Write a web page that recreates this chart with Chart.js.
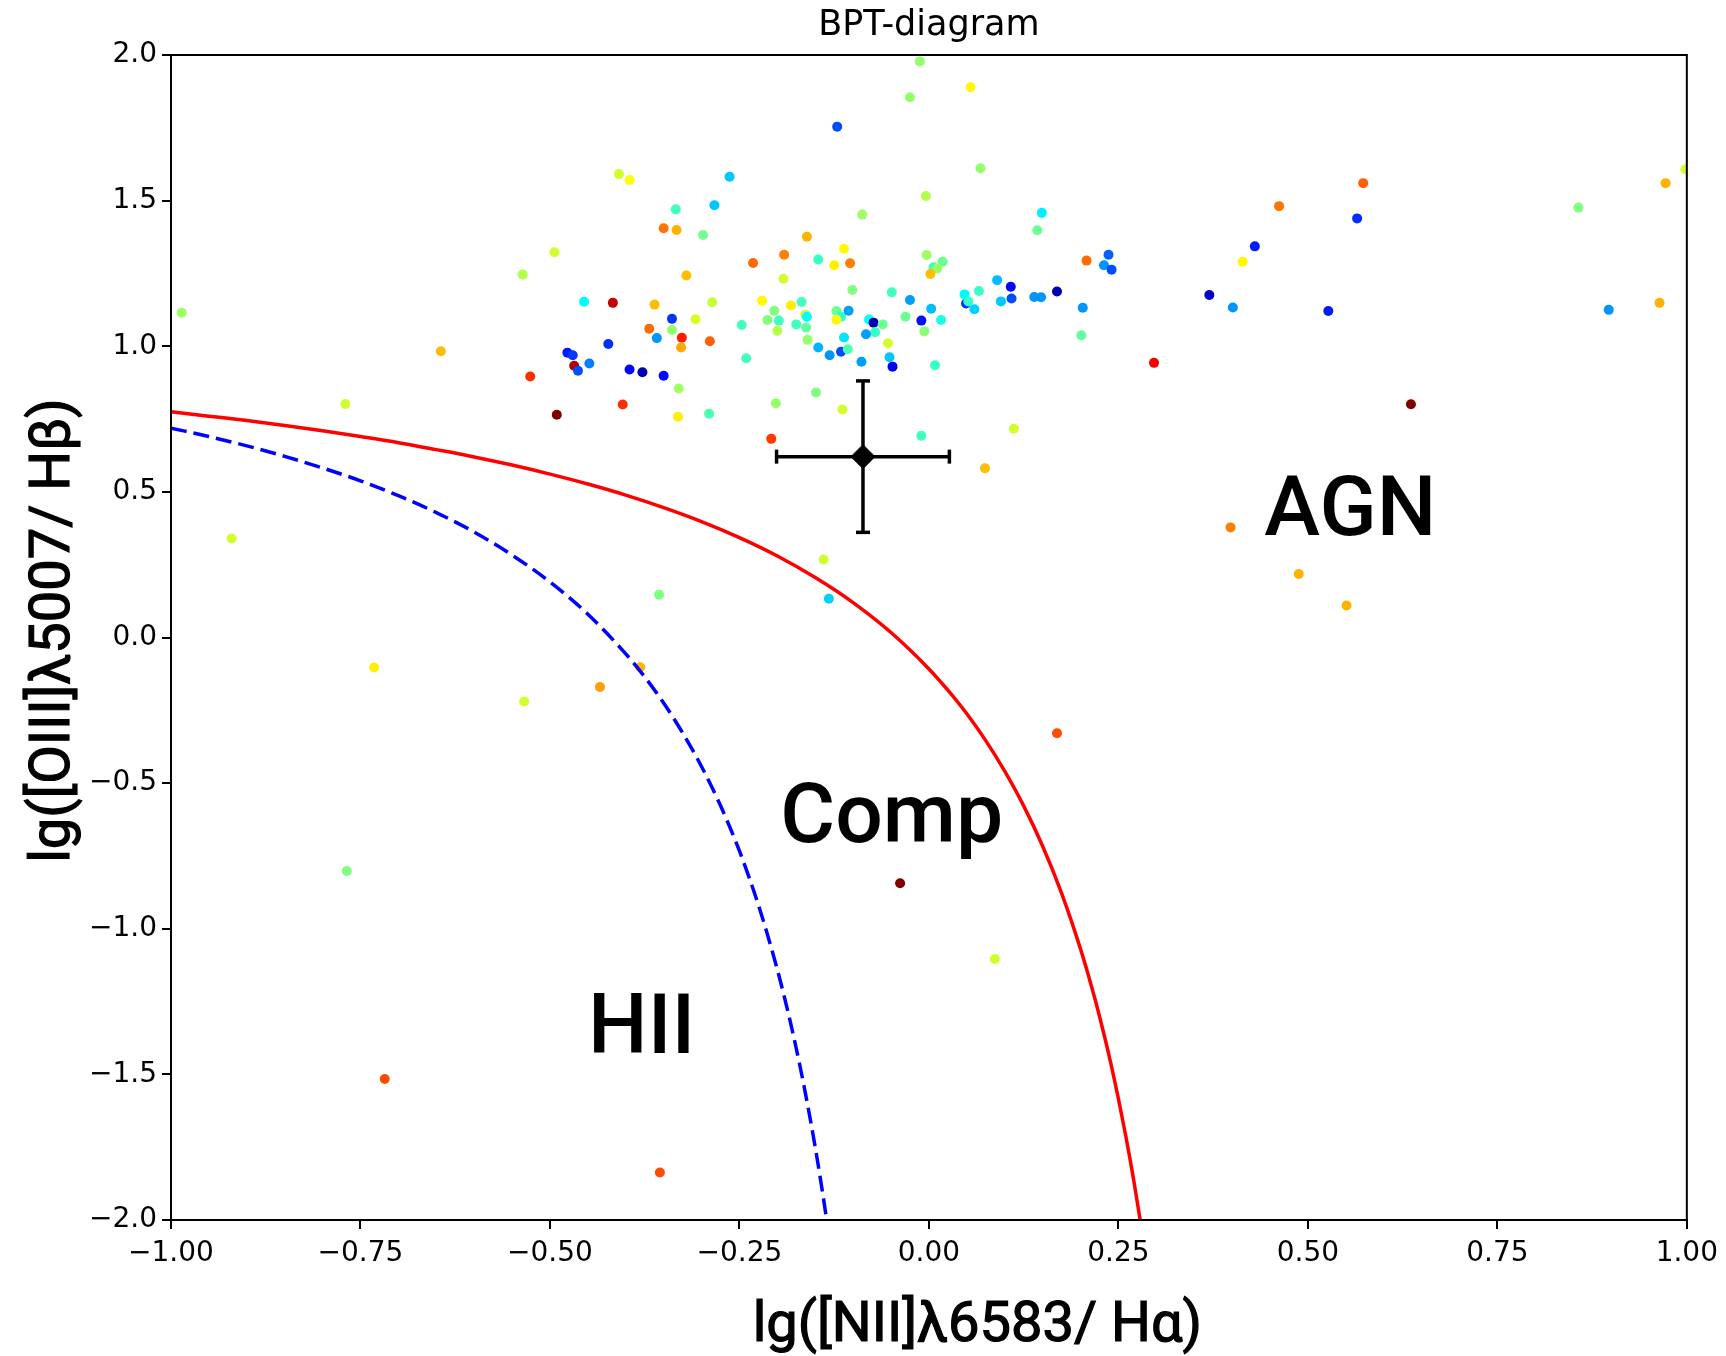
<!DOCTYPE html>
<html>
<head>
<meta charset="utf-8">
<script src="https://cdn.jsdelivr.net/npm/chart.js@4/dist/chart.umd.min.js"></script>
<style>
html,body{margin:0;padding:0;background:#fff;}
#wrap{width:1726px;height:1356px;}
</style>
</head>
<body>
<div id="wrap"><canvas id="c" width="1726" height="1356"></canvas></div>
<script>
// ---- scatter sample: lg([NII]/Ha), lg([OIII]/Hb), colour value (0..1 on jet map)
const xVals = [
 0.055,-0.025,-0.121,-0.409,-0.395,-0.263,0.068,-0.334,-0.283,-0.350,
 -0.333,-0.298,-0.004,-0.088,0.149,0.143,-0.494,-0.536,-0.161,-0.112,
 -0.232,-0.191,-0.146,-0.125,-0.104,-0.320,-0.192,-0.003,0.018,0.006,
 0.011,0.002,-0.101,-0.049,-0.025,0.003,0.016,-0.031,-0.010,-0.006,
 0.008,0.047,0.066,0.090,0.108,0.109,0.095,0.049,0.052,0.060,
 0.139,0.148,-0.455,-0.417,-0.362,-0.286,-0.220,-0.182,-0.168,-0.204,
 -0.163,-0.161,-0.213,-0.198,-0.175,-0.162,-0.200,-0.160,-0.247,-0.122,
 -0.116,-0.122,-0.106,-0.079,-0.073,-0.061,-0.071,-0.083,-0.112,-0.054,
 -0.146,-0.131,-0.116,-0.107,-0.089,-0.052,-0.048,-0.241,-0.339,-0.308,
 -0.369,-0.339,-0.359,-0.326,-0.327,-0.289,-0.423,-0.477,-0.470,-0.448,
 -0.468,-0.463,-0.395,-0.378,-0.350,-0.526,-0.330,-0.149,-0.491,-0.404,
 -0.331,-0.290,-0.202,-0.114,
 -0.986,-0.644,-0.770,-0.920,-0.356,-0.139,-0.132,-0.732,-0.534,-0.434,
 -0.381,-0.768,-0.038,0.087,0.169,0.398,0.488,0.551,-0.718,-0.355,
 -0.208,-0.010,0.112,0.074,
 0.169,0.203,0.201,0.208,0.237,0.231,0.241,0.297,0.370,0.401,
 0.414,0.430,0.462,0.527,0.565,0.573,0.636,0.857,0.897,0.964,
 0.972,0.998,-0.012
];
const yVals = [
 1.889,1.855,1.754,1.591,1.571,1.582,1.611,1.470,1.484,1.405,
 1.399,1.382,1.516,1.452,1.458,1.398,1.323,1.246,1.376,1.335,
 1.286,1.314,1.298,1.278,1.285,1.243,1.232,1.313,1.290,1.271,
 1.267,1.248,1.193,1.185,1.159,1.129,1.090,1.101,1.088,1.051,
 0.935,1.178,1.190,1.227,1.204,1.164,1.154,1.147,1.154,1.127,
 1.169,1.168,1.153,1.149,1.143,1.151,1.156,1.140,1.152,1.122,
 1.108,1.101,1.090,1.088,1.075,1.064,1.053,1.022,1.073,1.121,
 1.101,1.091,1.122,1.092,1.081,1.075,1.048,1.041,1.030,1.010,
 0.996,0.969,0.981,0.990,0.947,0.962,0.930,0.959,1.094,1.093,
 1.060,1.056,1.028,1.029,0.996,1.017,1.008,0.978,0.969,0.941,
 0.933,0.916,0.920,0.911,0.899,0.896,0.855,0.841,0.765,0.800,
 0.758,0.768,0.804,0.783,
 1.115,0.983,0.802,0.340,0.147,0.268,0.133,-0.103,-0.220,-0.170,
 -0.102,-0.802,-0.844,-1.104,-0.329,0.378,0.218,0.110,-1.516,-1.837,
 0.682,0.693,0.717,0.581,
 1.188,1.132,1.038,1.294,1.314,1.278,1.263,0.943,1.176,1.133,
 1.290,1.343,1.481,1.121,1.439,1.560,0.801,1.476,1.125,1.149,
 1.560,1.608,1.978
];
const cVals = [
 0.63,0.52,0.20,0.58,0.62,0.32,0.52,0.44,0.32,0.76,
 0.70,0.49,0.55,0.53,0.36,0.48,0.58,0.55,0.70,0.63,
 0.77,0.75,0.43,0.64,0.75,0.69,0.58,0.53,0.48,0.44,
 0.52,0.69,0.50,0.44,0.28,0.31,0.40,0.48,0.14,0.51,
 0.43,0.37,0.43,0.31,0.13,0.20,0.32,0.17,0.43,0.33,
 0.27,0.27,0.37,0.93,0.69,0.57,0.63,0.64,0.44,0.50,
 0.56,0.38,0.50,0.44,0.44,0.47,0.55,0.52,0.44,0.48,
 0.42,0.63,0.28,0.38,0.05,0.48,0.43,0.28,0.35,0.58,
 0.30,0.27,0.20,0.45,0.28,0.32,0.12,0.44,0.18,0.59,
 0.77,0.52,0.27,0.85,0.71,0.78,0.17,0.15,0.18,0.25,
 0.95,0.20,0.13,0.05,0.13,0.83,0.53,0.50,1.00,0.83,
 0.64,0.45,0.52,0.58,
 0.53,0.69,0.58,0.58,0.50,0.58,0.33,0.64,0.58,0.72,
 0.70,0.50,1.00,0.58,0.80,0.75,0.70,0.70,0.80,0.80,
 0.82,0.44,0.58,0.69,
 0.05,0.27,0.47,0.77,0.22,0.27,0.20,0.88,0.07,0.27,
 0.63,0.15,0.76,0.15,0.17,0.78,1.00,0.50,0.27,0.70,
 0.70,0.58,0.52
];

// ---- demarcation curves
const kewleyX = [-1.0,-0.95,-0.9,-0.85,-0.8,-0.75,-0.7,-0.65,-0.6,-0.55,-0.5,-0.45,-0.4,-0.35,-0.3,-0.25,-0.2,-0.15,-0.1,-0.05,0.0,0.025,0.05,0.075,0.1,0.125,0.15,0.175,0.2,0.21,0.22,0.23,0.24,0.25,0.26,0.265,0.27,0.28];
const kewleyY = [0.775,0.760,0.745,0.728,0.710,0.690,0.669,0.645,0.620,0.592,0.561,0.527,0.489,0.446,0.398,0.343,0.280,0.206,0.120,0.017,-0.108,-0.181,-0.262,-0.354,-0.459,-0.578,-0.716,-0.878,-1.069,-1.156,-1.250,-1.352,-1.462,-1.583,-1.715,-1.786,-1.860,-2.021];
const kauffX = [-1.0,-0.95,-0.9,-0.85,-0.8,-0.75,-0.7,-0.65,-0.6,-0.55,-0.5,-0.45,-0.4,-0.375,-0.35,-0.325,-0.3,-0.275,-0.25,-0.225,-0.2,-0.19,-0.18,-0.17,-0.16,-0.15,-0.14,-0.134];
const kauffY = [0.719,0.690,0.658,0.622,0.582,0.538,0.487,0.429,0.362,0.283,0.191,0.080,-0.056,-0.135,-0.225,-0.327,-0.443,-0.577,-0.733,-0.918,-1.140,-1.242,-1.352,-1.473,-1.605,-1.750,-1.911,-2.015];

// ---- target object with error bars
const objX = [-0.087];
const objY = [0.621];
const objXErr = [0.114];
const objYErr = [0.26];

// ---- ticks
const xTickValues = [-1,-0.75,-0.5,-0.25,0,0.25,0.5,0.75,1];
const xTickLabels = ['\u22121.00','\u22120.75','\u22120.50','\u22120.25','0.00','0.25','0.50','0.75','1.00'];
const yTickValues = [-2,-1.5,-1,-0.5,0,0.5,1,1.5,2];
const yTickLabels = ['\u22122.0','\u22121.5','\u22121.0','\u22120.5','0.0','0.5','1.0','1.5','2.0'];

// ---- texts
const chartTitle = 'BPT-diagram';
const xTitle = 'lg([NII]\u03bb6583/ H\u03b1)';
const yTitle = 'lg([OIII]\u03bb5007/ H\u03b2)';
const regionLabels = ['AGN','Comp','HII'];
const regionX = [0.556,-0.049,-0.379];
const regionY = [0.352,-0.702,-1.426];

function jet(v){
  const f = t => Math.max(0, Math.min(1, t));
  const r = f(1.5 - Math.abs(4*v - 3));
  const g = f(1.5 - Math.abs(4*v - 2));
  const b = f(1.5 - Math.abs(4*v - 1));
  return 'rgb(' + Math.round(r*255) + ',' + Math.round(g*255) + ',' + Math.round(b*255) + ')';
}

const scatterData = xVals.map((x, i) => ({x: x, y: yVals[i]}));
const scatterColors = cVals.map(jet);
const kewleyData = kewleyX.map((x, i) => ({x: x, y: kewleyY[i]}));
const kauffData = kauffX.map((x, i) => ({x: x, y: kauffY[i]}));
const errH = [{x: objX[0] - objXErr[0], y: objY[0]}, {x: objX[0] + objXErr[0], y: objY[0]}];
const errV = [{x: objX[0], y: objY[0] - objYErr[0]}, {x: objX[0], y: objY[0] + objYErr[0]}];

const overlay = {
  id: 'overlay',
  afterDraw(chart){
    const ctx = chart.ctx, a = chart.chartArea, xs = chart.scales.x, ys = chart.scales.y;
    ctx.save();
    ctx.fillStyle = '#000';
    ctx.strokeStyle = '#000';
    ctx.textAlign = 'center';
    ctx.textBaseline = 'alphabetic';
    ctx.font = '500 84px Roboto';
    regionLabels.forEach((t, i) => {
      ctx.fillText(t, xs.getPixelForValue(regionX[i]), ys.getPixelForValue(regionY[i]));
    });
    ctx.font = '400 56px Roboto';
    ctx.lineWidth = 1.2;
    const xtx = a.left + 0.532*(a.right - a.left), xty = a.bottom + 121;
    ctx.fillText(xTitle, xtx, xty);
    ctx.strokeText(xTitle, xtx, xty);
    ctx.translate(69, a.top + 0.494*(a.bottom - a.top));
    ctx.rotate(-Math.PI/2);
    ctx.fillText(yTitle, 0, 0);
    ctx.strokeText(yTitle, 0, 0);
    ctx.restore();
    ctx.save();
    ctx.strokeStyle = '#000';
    ctx.lineWidth = 2;
    ctx.strokeRect(a.left, a.top, a.right - a.left, a.bottom - a.top);
    ctx.restore();
  }
};

const tickFont = {family: 'DejaVu Sans', size: 28};

new Chart(document.getElementById('c'), {
  type: 'scatter',
  data: {
    datasets: [
      {type: 'line', data: errH, borderColor: '#000', borderWidth: 3.5, pointStyle: 'line', pointRadius: 7, pointRotation: 90, pointBorderColor: '#000', pointBorderWidth: 3.5, showLine: true, clip: false},
      {type: 'line', data: errV, borderColor: '#000', borderWidth: 3.5, pointStyle: 'line', pointRadius: 7, pointRotation: 0, pointBorderColor: '#000', pointBorderWidth: 3.5, showLine: true, clip: false},
      {type: 'scatter', data: [{x: objX[0], y: objY[0]}], pointStyle: 'rectRot', pointRadius: 12, backgroundColor: '#000', borderColor: '#000', borderWidth: 1},
      {type: 'line', data: kewleyData, borderColor: '#ff0000', borderWidth: 3.5, pointRadius: 0, cubicInterpolationMode: 'monotone', fill: false, clip: 0},
      {type: 'line', data: kauffData, borderColor: '#0000ff', borderWidth: 3.5, borderDash: [16, 7], pointRadius: 0, cubicInterpolationMode: 'monotone', fill: false, clip: 0},
      {type: 'scatter', data: scatterData, pointRadius: 5, pointHoverRadius: 5, backgroundColor: scatterColors, borderWidth: 0, clip: 0}
    ]
  },
  options: {
    responsive: false,
    animation: false,
    devicePixelRatio: 1,
    layout: {padding: {left: 0, right: 34, top: 0, bottom: 0}},
    plugins: {
      legend: {display: false},
      tooltip: {enabled: false},
      title: {display: true, fullSize: false, text: chartTitle, color: '#000', font: {family: 'DejaVu Sans', size: 35, weight: 'normal'}, padding: {top: 5, bottom: 8}}
    },
    scales: {
      x: {
        type: 'linear', min: -1, max: 1,
        afterBuildTicks: s => { s.ticks = xTickValues.map(v => ({value: v})); },
        afterFit: s => { s.height = 136; },
        ticks: {color: '#000', font: tickFont, padding: 8, maxRotation: 0, autoSkip: false,
          callback: (v, i) => xTickLabels[i]},
        grid: {drawOnChartArea: false, drawTicks: true, tickLength: 9, color: '#000', lineWidth: 2},
        border: {display: true, color: '#000', width: 2}
      },
      y: {
        type: 'linear', min: -2, max: 2,
        afterBuildTicks: s => { s.ticks = yTickValues.map(v => ({value: v})); },
        afterFit: s => { s.width = 171; },
        ticks: {color: '#000', font: tickFont, padding: 5, autoSkip: false,
          callback: (v, i) => yTickLabels[i]},
        grid: {drawOnChartArea: false, drawTicks: true, tickLength: 9, color: '#000', lineWidth: 2},
        border: {display: true, color: '#000', width: 2}
      }
    }
  },
  plugins: [overlay]
});
</script>
</body>
</html>
